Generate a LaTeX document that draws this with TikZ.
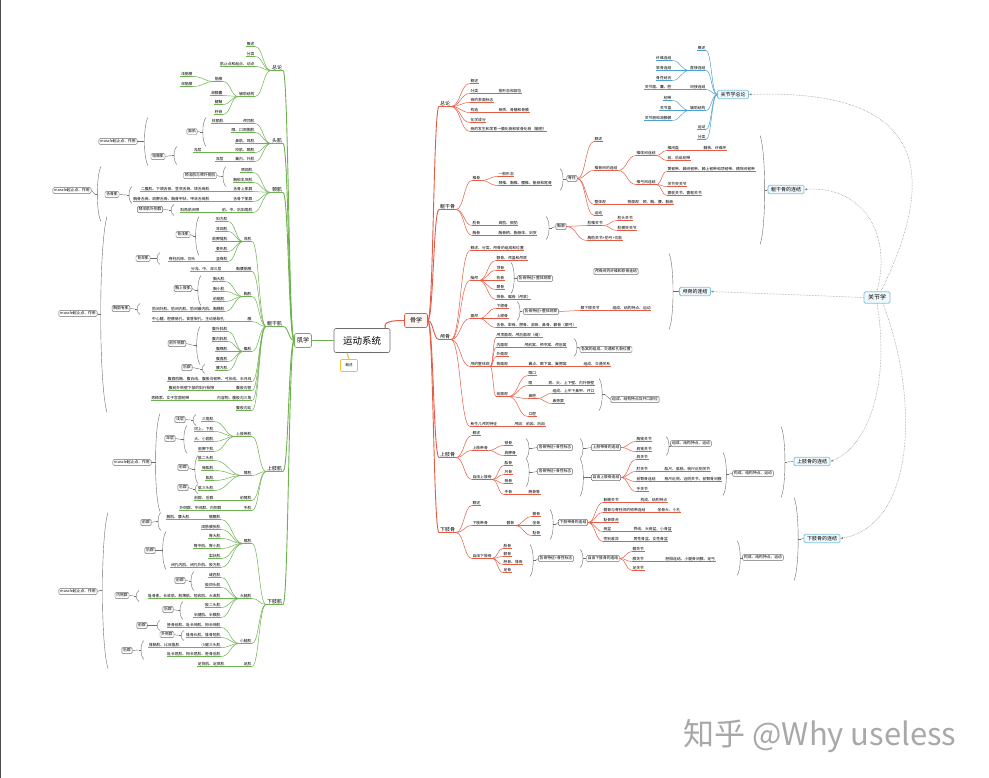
\documentclass[tikz,border=0pt]{standalone}
\usepackage{fontspec}
\setmainfont{Noto Sans CJK SC}
\usetikzlibrary{arrows.meta,calc}

\definecolor{grn}{RGB}{108,178,78}
\definecolor{rdl}{RGB}{228,92,70}
\definecolor{bll}{RGB}{74,160,206}
\definecolor{bxg}{RGB}{110,110,110}
\definecolor{jbd}{RGB}{128,196,224}
\definecolor{jfl}{RGB}{240,248,252}
\definecolor{ylw}{RGB}{240,192,40}
\definecolor{wmk}{RGB}{168,168,168}

\newcommand\lfont{\fontsize{3.8}{4.2}\selectfont}
\newcommand\lvfont{\fontsize{5}{6}\selectfont}
\newcommand\jfont{\fontsize{5}{6}\selectfont}

% curved connector between two anchors
\newcommand\conn[3]{\draw[#1] let \p1=(#2), \p2=(#3) in
  (\p1) .. controls ({0.5*\x1+0.5*\x2},\y1) and ({0.5*\x1+0.5*\x2},\y2) .. (\p2);}
% children: green to the left, red to the right, blue to the left
\newcommand\gkids[3]{\foreach \y/\tx [count=\ii] in {#3}{%
  \node[gl] (#1-\ii) at (#2,\y) {\tx};
  \conn{gln}{#1.south west}{#1-\ii.south east}}}
\newcommand\rkidsfrom[4]{\foreach \y/\tx [count=\ii] in {#4}{%
  \node[rl] (#2-\ii) at (#3,\y) {\tx};
  \conn{rln}{#1}{#2-\ii.south west}}}
\newcommand\rkids[3]{\rkidsfrom{#1.south east}{#1}{#2}{#3}}
\newcommand\bkidsfrom[4]{\foreach \y/\tx [count=\ii] in {#4}{%
  \node[bl] (#2-\ii) at (#3,\y) {\tx};
  \conn{bln}{#1}{#2-\ii.south east}}}
\newcommand\bkids[3]{\bkidsfrom{#1.south west}{#1}{#2}{#3}}
% summary brackets
\newcommand\rbrk[4]{\pgfmathsetmacro\brw{3.5+(#4-#3)*0.025}\pgfmathsetmacro\brm{(#3+#4)/2}
  \draw[brk] (#2,#3) .. controls ({#2+\brw},{#3+(#4-#3)*0.15}) and ({#2+\brw},{#4-(#4-#3)*0.15}) .. (#2,#4);
  \draw[brk] ({#2+0.75*\brw},\brm) -- ({#2+0.75*\brw+2.5},\brm) coordinate (#1);}
\newcommand\lbrk[4]{\pgfmathsetmacro\brw{3.5+(#4-#3)*0.025}\pgfmathsetmacro\brm{(#3+#4)/2}
  \draw[brk] (#2,#3) .. controls ({#2-\brw},{#3+(#4-#3)*0.15}) and ({#2-\brw},{#4-(#4-#3)*0.15}) .. (#2,#4);
  \draw[brk] ({#2-0.75*\brw},\brm) -- ({#2-0.75*\brw-2.5},\brm) coordinate (#1);}
\newcommand\rsum[8][sbox]{\rbrk{#2k}{#3}{#4}{#5}\node[#1] (#2) at (#6,#7) {#8};\draw[brk] (#2k) -- (#2.west);}
\newcommand\lsum[7]{\lbrk{#1k}{#2}{#3}{#4}\node[sbox] (#1) at (#5,#6) {#7};\draw[brk] (#1k) -- (#1.east);}

\begin{document}
\begin{tikzpicture}[x=1pt,y=-1pt,
  lf/.style={font=\lfont, inner sep=0.6pt, outer sep=0pt},
  gln/.style={draw=grn, line width=0.5pt},
  rln/.style={draw=rdl, line width=0.5pt},
  bln/.style={draw=bll, line width=0.5pt},
  gln1/.style={draw=grn, line width=0.9pt},
  rln1/.style={draw=rdl, line width=0.9pt},
  gl/.style={lf, anchor=south east, append after command={(\tikzlastnode.south west) edge[gln] (\tikzlastnode.south east)}},
  rl/.style={lf, anchor=south west, append after command={(\tikzlastnode.south west) edge[rln] (\tikzlastnode.south east)}},
  bl/.style={lf, anchor=south east, append after command={(\tikzlastnode.south west) edge[bln] (\tikzlastnode.south east)}},
  gl1/.style={lf, font=\lvfont, inner sep=1pt, anchor=south east, append after command={(\tikzlastnode.south west) edge[gln1] (\tikzlastnode.south east)}},
  rl1/.style={lf, font=\lvfont, inner sep=1pt, anchor=south west, append after command={(\tikzlastnode.south west) edge[rln1] (\tikzlastnode.south east)}},
  sbox/.style={draw=bxg, fill=white, rounded corners=1.2pt, font=\lfont, inner sep=1.3pt, line width=0.45pt},
  jbox/.style={draw=jbd, fill=jfl, rounded corners=1.5pt, font=\jfont, inner xsep=3pt, inner ysep=2pt, line width=0.8pt},
  brk/.style={draw=bxg, line width=0.4pt},
  dlink/.style={draw=gray, densely dotted, line width=0.5pt, -{Latex[length=2.5pt,width=2.2pt]}},
]
\fill[white] (0,0) rectangle (989,777);
\draw[black!70, line width=1pt] (0.5,0) -- (0.5,777);

% centre
\node[draw=bxg, fill=white, rounded corners=2pt, line width=0.6pt, font=\fontsize{9.5}{11}\selectfont, minimum width=56pt, minimum height=24pt, inner sep=0pt] (sys) at (362,340) {运动系统};
\node[draw=rdl, fill=rdl!6, rounded corners=1.5pt, line width=0.6pt, font=\fontsize{6}{7}\selectfont, minimum width=23pt, minimum height=14pt, inner sep=0pt] (bone) at (416,320) {骨学};
\node[draw=grn, fill=white, rounded corners=1.5pt, line width=0.6pt, font=\fontsize{6}{7}\selectfont, minimum width=17pt, minimum height=14pt, inner sep=0pt] (mus) at (303,340) {肌学};
\node[draw=ylw, fill=white, rounded corners=1pt, line width=0.6pt, font=\fontsize{3.5}{4}\selectfont, minimum width=17pt, minimum height=12pt, inner sep=0pt] (ovw) at (349,365) {概述};
\draw[rdl, line width=1pt] ([xshift=-5pt]sys.north east) .. controls (383,321) and (392,320) .. (bone.west);
\draw[grn, line width=1pt] (sys.west) -- (mus.east);
\draw[ylw, line width=1pt] ([xshift=-15pt]sys.south) -- (ovw.north);

% muscles
\foreach \nm/\y/\tx in {m1/70/总论,m2/143/头肌,m3/192/颈肌,m4/326/躯干肌,m5/471/上肢肌,m6/604/下肢肌}{
  \node[gl1] (\nm) at (283,\y) {\tx};
  \conn{gln1}{mus.west}{\nm.south east}}
\gkids{m1}{255}{46/概述,56/分类,66/肌止点和起点、动点,96/辅助结构}
\gkids{m1-4}{223}{81/筋膜,95/滑膜囊,104/腱鞘,114/籽骨}
\gkids{m1-4-1}{193}{76/浅筋膜,86/深筋膜}
\gkids{m2}{255}{123/颅顶肌,132/眼、口周围肌,143/鼻肌、耳肌,152/咬肌、颞肌,161/翼内、外肌}
\gkids{m2-1}{224}{123/枕额肌}
\gkids{m2-4}{202}{152/浅层}
\gkids{m2-5}{224}{161/深层}
\gkids{m3}{253}{172/颈阔肌,182/胸锁乳突肌,191/舌骨上肌群,201/舌骨下肌群,212/前、中、后斜角肌}
\gkids{m3-3}{210}{191/二腹肌、下颌舌骨、茎突舌骨、颏舌骨肌}
\gkids{m3-4}{210}{201/胸骨舌骨、肩胛舌骨、胸骨甲状、甲状舌骨肌}
\gkids{m3-5}{200}{212/斜角肌间隙}
\gkids{m4}{252}{241/背肌,271/胸腰筋膜,296/胸肌,321/膈,351/腹肌,381/腹直肌鞘、腹白线、腹股沟韧带、弓状线、半月线,390/腹股沟管,400/内容物、腹股沟三角,410/腹股沟疝}
\gkids{m4-1}{228}{221/斜方肌,231/背阔肌,241/肩胛提肌,251/菱形肌,261/竖脊肌}
\gkids{m4-1-5}{196}{261/脊柱后伸、仰头}
\gkids{m4-2}{222}{271/分浅、中、深三层}
\gkids{m4-3}{225}{281/胸大肌,291/胸小肌,301/前锯肌,311/肋间外肌、肋间内肌、肋间最内肌、胸横肌}
\gkids{m4-4}{225}{321/中心腱、腔静脉孔、食管裂孔、主动脉裂孔}
\gkids{m4-5}{228}{331/腹外斜肌,341/腹内斜肌,351/腹横肌,361/腹直肌,370/腰方肌}
\gkids{m4-7}{215}{390/腹前外侧壁下部的斜行裂隙}
\gkids{m4-8}{190}{400/男精索、女子宫圆韧带}
\gkids{m5}{252}{436/上肢带肌,475/臂肌,500/前臂肌,510/手肌}
\gkids{m5-1}{214}{421/三角肌,431/冈上、下肌,441/大、小圆肌,451/肩胛下肌}
\gkids{m5-2}{214}{460/肱二头肌,470/喙肱肌,480/肱肌,490/肱三头肌}
\gkids{m5-3}{214}{500/前群、后群}
\gkids{m5-4}{222}{510/外侧群、中间群、内侧群}
\gkids{m6}{252}{543/髋肌,598/大腿肌,643/小腿肌,666/足肌}
\gkids{m6-1}{221}{519/髂腰肌,529/阔筋膜张肌,538/臀大肌,548/臀中肌、臀小肌,558/梨状肌,567/闭孔内肌、闭孔外肌、股方肌}
\gkids{m6-1-1}{190}{519/髂肌、腰大肌}
\gkids{m6-2}{221}{577/缝匠肌,587/股四头肌,598/耻骨肌、长收肌、股薄肌、短收肌、大收肌,607/股二头肌,617/半腱肌、半膜肌}
\gkids{m6-3}{221}{627/胫骨前肌、趾长伸肌、拇长伸肌,637/腓骨长肌、腓骨短肌,647/小腿三头肌,656/趾长屈肌、拇长屈肌、胫骨后肌}
\gkids{m6-3-3}{180}{647/腓肠肌、比目鱼肌}
\gkids{m6-4}{225}{666/足背肌、足底肌}

\lsum{fj}{206}{117}{146}{192}{131}{面肌}
\lsum{jj}{177}{146}{164}{158}{156}{咀嚼肌}
\lsum{ms1}{148}{117}{165}{118}{141}{muscle起止点、作用}
\lsum{jq}{226}{166}{186}{200}{175}{颈浅肌与颈外侧肌}
\lsum{sg}{132}{186}{203}{112}{194}{舌骨肌}
\lsum{js}{174}{204}{215}{150}{209}{颈深肌外侧群}
\lsum{ms2}{101}{166}{221}{72}{190}{muscle起止点、作用}
\lsum{bq}{199}{216}{255}{183}{234}{背浅肌}
\lsum{bs}{160}{252}{264}{143}{258}{背深肌}
\lsum{xs}{201}{275}{305}{183}{288}{胸上肢肌}
\lsum{xg}{140}{303}{314}{121}{308}{胸固有肌}
\lsum{qw}{200}{326}{364}{177}{343}{前外侧群}
\lsum{hq1}{205}{364}{373}{187}{367}{后群}
\lsum{ms3}{107}{216}{412}{78}{313}{muscle起止点、作用}
\lsum{qc}{196}{414}{425}{180}{419}{浅层}
\lsum{sc}{187}{425}{453}{170}{438}{深层}
\lsum{qq1}{198}{455}{483}{183}{467}{前群}
\lsum{hq2}{198}{484}{493}{183}{487}{后群}
\lsum{ms4}{160}{413}{511}{132}{462}{muscle起止点、作用}
\lsum{qq2}{161}{512}{530}{146}{522}{前群}
\lsum{hq3}{166}{531}{569}{150}{550}{后群}
\lsum{qq3}{194}{571}{590}{180}{580}{前群}
\lsum{nc}{139}{590}{601}{122}{595}{内侧群}
\lsum{hq4}{183}{601}{619}{168}{609}{后群}
\lsum{qq4}{160}{620}{630}{142}{625}{前群}
\lsum{wc}{184}{630}{640}{167}{634}{外侧群}
\lsum{hq5}{144}{640}{659}{127}{650}{后群}
\lsum{ms5}{108}{512}{668}{78}{591}{muscle起止点、作用}

% bones
\foreach \nm/\y/\tx in {b1/106/总论,b2/209/躯干骨,b3/339/颅骨,b4/457/上肢骨,b5/532/下肢骨}{
  \node[rl1] (\nm) at (439,\y) {\tx};
  \conn{rln1}{bone.east}{\nm.south west}}
\rkids{b1}{470}{83/概述,93/分类,102/骨的表面标志,112/构造,122/化学成分,131/骨的发生和发育→膜化骨和软骨化骨（髓腔）}
\rkids{b1-2}{498}{93/按形态和部位}
\rkids{b1-4}{498}{112/骨质、骨髓和骨膜}
\rkids{b2}{472}{180/椎骨,225/肋骨,235/胸骨}
\rkids{b2-1}{498}{176/一般形态,185/颈椎、胸椎、腰椎、骶骨和尾骨}
\rkids{b2-2}{498}{225/真肋、假肋}
\rkids{b2-3}{498}{235/胸骨柄、胸骨体、剑突}
\rsum{spz}{560}{168}{190}{572}{178}{脊柱}
\rsum{xk}{546}{216}{239}{561}{226}{胸廓}
\rkidsfrom{spz.east}{spz}{594}{141/概述,170/椎骨间的连结,204/整体观,215/运动}
\rkids{spz-2}{636}{155/椎体间连结,184/椎弓间连结}
\rkids{spz-2-1}{667}{150/椎间盘,160/前、后纵韧带}
\rkids{spz-2-1-1}{703}{150/髓核、纤维环}
\rkids{spz-2-2}{667}{171/黄韧带、棘间韧带、棘上韧带和项韧带、横突间韧带,186/关节突关节,195/寰枕关节、寰枢关节}
\rkids{spz-3}{627}{204/侧面观：颈、胸、腰、骶曲}
\rkidsfrom{xk.east}{xk}{587}{225/肋椎关节,240/胸肋关节+肋弓+功能}
\rkids{xk-1}{617}{220/肋头关节,230/肋横突关节}
\rsum[jbox]{ztl}{760}{135}{244}{786}{189}{躯干骨的连结}

\rkids{b3}{470}{250/概述、分类、颅骨的组成和位置,280/脑颅,318/面颅,366/颅的整体观,426/新生儿颅的特征}
\rkids{b3-2}{496}{260/额骨、颅盖和颅底,270/顶骨,280/枕骨,289/颞骨,299/筛骨、蝶骨（颅底）}
\rsum{gtz1}{511}{262}{293}{535}{278}{各骨特征+整体观察}
\rkids{b3-3}{496}{308/下颌骨,318/上颌骨,327/舌骨、犁骨、腭骨、泪骨、鼻骨、颧骨（颧弓）}
\rsum{gtz2}{517}{301}{320}{541}{311}{各骨特征+整体观察}
\rkidsfrom{gtz2.east}{gtz2}{580}{310/颞下颌关节}
\rkids{gtz2-1}{612}{310/组成、结构特点、运动}
\node[sbox] (qx) at (616,271) {颅骨间的纤维和软骨连结};
\rsum[jbox]{lgl}{669}{253}{329}{695}{291}{颅骨的连结}
\rkids{b3-4}{496}{337/颅顶面观、颅后面观（缝）,347/内面观,356/外面观,366/侧面观,396/前面观}
\rkids{b3-4-2}{524}{347/颅前窝、颅中窝、颅后窝}
\rsum{wz}{574}{338}{356}{606}{349}{各窝的组成、交通和孔裂位置}
\rkids{b3-4-4}{528}{366/翼点、颞下窝、翼腭窝}
\rkids{b3-4-4-1}{583}{366/组成、交通关系}
\rkids{b3-4-5}{528}{375/眶口,385/眶,398/鼻腔,416/口腔}
\rkids{b3-4-5-2}{548}{385/底、尖、上下壁、内外侧壁}
\rkids{b3-4-5-3}{552}{393/组成、上中下鼻甲、开口,403/鼻旁窦}
\rsum{kz}{599}{378}{410}{635}{399}{组成、结构特点及开口部位}
\rkids{b3-5}{514}{426/颅囟：前囟、后囟}

\rkids{b4}{472}{435/概述,450/上肢带骨,479/自由上肢骨}
\rkids{b4-2}{504}{445/锁骨,455/肩胛骨}
\rsum{gt3}{526}{438}{458}{555}{447}{各骨特征+骨性标志}
\rsum{sdl}{580}{438}{458}{606}{447}{上肢带骨的连结}
\rkidsfrom{sdl.east}{sdl}{636}{441/胸锁关节,451/肩锁关节}
\rsum{gz1}{666}{436}{455}{691}{443}{组成、结构特点、运动}
\rkids{b4-3}{504}{465/肱骨,474/尺骨,483/桡骨,494/手骨}
\rkids{b4-3-4}{528}{494/腕骨等}
\rsum{gt4}{526}{458}{486}{555}{471}{各骨特征+骨性标志}
\rsum{zsl}{580}{458}{496}{606}{477}{自由上肢骨连结}
\rkidsfrom{zsl.east}{zsl}{636}{459/肩关节,471/肘关节,481/前臂骨连结,491/手关节}
\rkids{zsl-2}{664}{471/肱尺、肱桡、桡尺近侧关节}
\rkids{zsl-3}{664}{481/桡尺近侧、远侧关节，前臂骨间膜}
\rsum{gz2}{723}{452}{495}{753}{473}{构成、结构特点、运动}
\rsum[jbox]{sjl}{781}{426}{497}{812}{461}{上肢骨的连结}

\rkids{b5}{472}{505/概述,525/下肢带骨,558/自由下肢骨}
\rkids{b5-2}{506}{525/髋骨}
\rkids{b5-2-1}{532}{516/髂骨,525/坐骨,535/耻骨}
\rsum{xdl}{550}{509}{539}{573}{522}{下肢带骨的连结}
\rkidsfrom{xdl.east}{xdl}{603}{502/骶髂关节,512/髋骨与脊柱间的韧带连结,522/耻骨联合,531/骨盆,541/性别差异}
\rkids{xdl-1}{640}{502/构成、结构特点}
\rkids{xdl-2}{657}{512/坐骨大、小孔}
\rkids{xdl-4}{633}{531/界线、大骨盆、小骨盆}
\rkids{xdl-5}{633}{541/男性骨盆、女性骨盆}
\rkids{b5-3}{503}{548/股骨,556/髌骨,564/胫骨、腓骨,572/足骨}
\rsum{gt5}{530}{544}{576}{556}{558}{各骨特征+骨性标志}
\rsum{zxl}{580}{549}{567}{603}{558}{自由下肢骨的连结}
\rkidsfrom{zxl.east}{zxl}{632}{551/髋关节,561/膝关节,570/足关节}
\rkids{zxl-2}{665}{561/胫腓连结、小腿骨间膜、足弓}
\rsum{gz3}{737}{540}{575}{763}{557}{构成、结构特点、运动}
\rsum[jbox]{xjl}{794}{497}{580}{822}{538}{下肢骨的连结}

% joints
\node[jbox] (zl) at (733,94) {关节学总论};
\bkidsfrom{zl.west}{zl}{706}{50/概述,70/直接连结,89/间接连结,110/辅助结构,129/运动,139/分类}
\bkids{zl-2}{672}{60/纤维连结,70/软骨连结,80/骨性结合}
\bkids{zl-3}{672}{89/关节面、囊、腔}
\bkids{zl-4}{672}{100/韧带,110/关节盘,120/关节唇和滑膜襞}
\node[jbox, font=\fontsize{6}{7}\selectfont, inner xsep=4pt, inner ysep=3pt] (jx) at (877,297) {关节学};
\draw[dlink] ([xshift=4pt]jx.north) .. controls (940,170) and (925,88) .. (zl.east);
\draw[dlink] (jx.north) .. controls (893,230) and (860,185) .. (ztl.east);
\draw[dlink] (jx.west) -- (lgl.east);
\draw[dlink] (jx.south) .. controls (890,380) and (870,445) .. (sjl.east);
\draw[dlink] ([xshift=6pt]jx.south) .. controls (920,400) and (915,525) .. (xjl.east);

\node[text=wmk, font=\fontsize{31}{34}\selectfont, anchor=base west] (wm) at (680,745) {知乎 @Why useless};
\end{tikzpicture}
\end{document}
